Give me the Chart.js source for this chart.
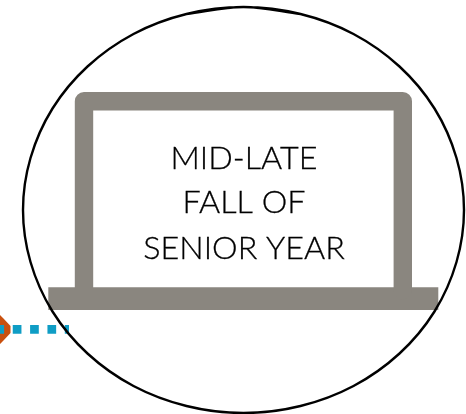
<!doctype html>
<html lang="en">

<head>
    <script src="https://cdn.jsdelivr.net/npm/chart.js/dist/chart.umd.min.js"></script>
    <meta charset="utf-8">
    <title>Mid-late fall of senior year</title>
    <style>
        * {
            margin: 0;
            padding: 0;
        }

        body {
            background: white;
            overflow: hidden;
        }

        canvas {
            display: block;
        }
    </style>
</head>

<body>
    <canvas id="laptopChart" width="466" height="414"></canvas>

    <script>
    // everything, in picture units (y grows downward)
    // outline starts and ends past the top point so the curve closes without a kink
    const outlineX = [186.5, 243.5, 300.5, 353.5, 399.5, 434.5, 456.5, 464, 456.5, 434.5, 399.5, 353.5, 300.5, 243.5, 186.5, 133.5, 87.5, 52.5, 30.5, 23, 30.5, 52.5, 87.5, 133.5, 186.5, 243.5, 300.5];
    const outlineY = [14, 7, 14, 34, 66.5, 108.5, 158, 210, 262, 311.5, 353.5, 386, 406, 413, 406, 386, 353.5, 311.5, 262, 210, 158, 108.5, 66.5, 34, 14, 7, 14];
    const screenX = [84, 84, 402.8, 402.8];
    const screenY = [290, 101.2, 101.2, 290];
    const baseX = [48.3, 438.3];
    const baseY = [298.7, 298.7];
    const dotsX = [-4.6, 69];
    const dotsY = [329.3, 329.3];
    const markerX = [-8, 0, 3, 10.5, 10.5, 3, 0, -8];
    const markerY = [315, 315, 318, 326, 333, 341, 344, 344];
    const textLines = ['MID-LATE', 'FALL OF', 'SENIOR YEAR'];
    const textX = [244, 244, 244];
    const textY = [159, 203, 249];

    function toPoints(xs, ys) {
        return xs.map((x, i) => ({ x: x, y: ys[i] }));
    }

    const textPlugin = {
        id: 'screenText',
        afterDatasetsDraw(chart) {
            const c = chart.ctx;
            c.save();
            c.fillStyle = '#000000';
            c.strokeStyle = '#000000';
            c.lineWidth = 0.3;
            c.font = '300 32.3px Lato';
            c.textAlign = 'center';
            c.textBaseline = 'middle';
            textLines.forEach((line, i) => {
                const px = chart.scales.x.getPixelForValue(textX[i]);
                const py = chart.scales.y.getPixelForValue(textY[i]);
                c.fillText(line, px, py);
                c.strokeText(line, px, py);
            });
            c.restore();
        }
    };

    new Chart(document.getElementById('laptopChart'), {
        type: 'scatter',
        data: {
            datasets: [
                {
                    label: 'outline',
                    data: toPoints(outlineX, outlineY),
                    showLine: true,
                    tension: 0.34,
                    borderColor: '#000000',
                    borderWidth: 2.4,
                    pointRadius: 0
                },
                {
                    label: 'screen',
                    data: toPoints(screenX, screenY),
                    showLine: true,
                    borderColor: '#8a867f',
                    borderWidth: 18.4,
                    borderJoinStyle: 'round',
                    pointRadius: 0
                },
                {
                    label: 'base',
                    data: toPoints(baseX, baseY),
                    showLine: true,
                    borderColor: '#8a867f',
                    borderWidth: 22.7,
                    pointRadius: 0
                },
                {
                    label: 'dots',
                    data: toPoints(dotsX, dotsY),
                    showLine: true,
                    borderColor: '#0f9dc5',
                    borderWidth: 8.7,
                    borderDash: [8.7, 8.65],
                    pointRadius: 0
                },
                {
                    label: 'marker',
                    data: toPoints(markerX, markerY),
                    showLine: true,
                    fill: 'shape',
                    backgroundColor: '#c9500f',
                    borderWidth: 0,
                    pointRadius: 0
                }
            ]
        },
        options: {
            responsive: false,
            animation: false,
            devicePixelRatio: 1,
            layout: { padding: 0 },
            plugins: {
                legend: { display: false },
                tooltip: { enabled: false }
            },
            scales: {
                x: { type: 'linear', display: false, min: 0, max: 466 },
                y: { type: 'linear', display: false, min: 0, max: 414, reverse: true }
            }
        },
        plugins: [textPlugin]
    });
    </script>
</body>

</html>
